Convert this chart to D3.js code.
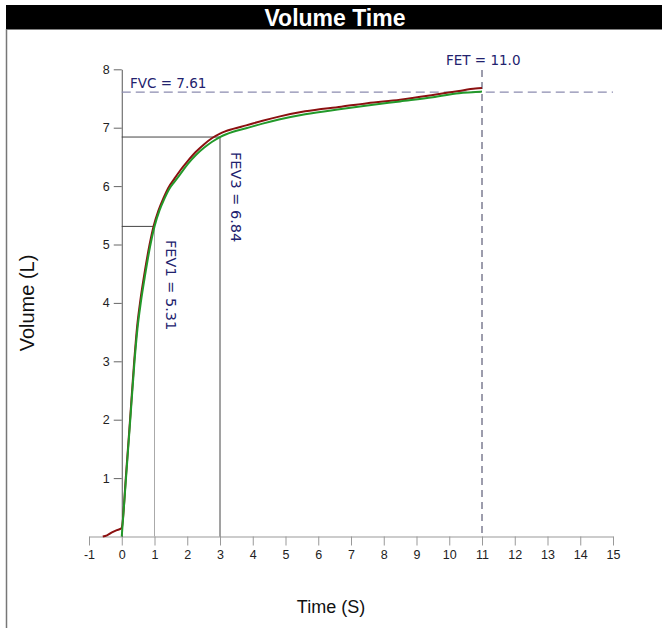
<!DOCTYPE html>
<html>
<head>
<meta charset="utf-8">
<script src="https://cdn.jsdelivr.net/npm/d3@7"></script>
<style>
  html, body { margin: 0; padding: 0; background: #fff; }
  svg { display: block; }
</style>
</head>
<body>
<svg id="chart" width="662" height="628"></svg>
<script>
// ---- data ----
const xTicks = [-1,0,1,2,3,4,5,6,7,8,9,10,11,12,13,14,15];
const yTicks = [1,2,3,4,5,6,7,8];

// trial 1 (dark red) : [time (s), volume (L)]
const trialRed = [
  [-0.58,0],[-0.45,0.02],[-0.3,0.07],[-0.15,0.11],[-0.04,0.13],[0.0,0.15],
  [0.13,1.05],[0.26,2.05],[0.38,3.0],[0.47,3.6],[0.57,4.05],[0.71,4.56],
  [0.85,5.0],[0.97,5.31],[1.12,5.58],[1.27,5.79],[1.42,5.97],[1.6,6.12],
  [1.8,6.28],[2.0,6.42],[2.25,6.58],[2.5,6.71],[2.75,6.82],[3.0,6.9],
  [3.4,6.98],[3.8,7.04],[4.3,7.12],[4.8,7.19],[5.6,7.28],[6.7,7.36],
  [7.5,7.42],[8.5,7.48],[9.5,7.56],[10.3,7.63],[10.8,7.67],[11.0,7.68]
];
// trial 2 (green)
const trialGreen = [
  [0,0],[0.13,1.0],[0.26,2.0],[0.39,3.0],[0.48,3.56],[0.58,4.0],[0.72,4.5],
  [0.86,4.95],[1.0,5.31],[1.15,5.58],[1.3,5.78],[1.45,5.95],[1.62,6.08],
  [1.82,6.23],[2.02,6.38],[2.28,6.54],[2.52,6.66],[2.76,6.76],[3.0,6.84],
  [3.4,6.93],[3.8,6.99],[4.3,7.07],[4.8,7.14],[5.6,7.23],[6.7,7.32],
  [7.5,7.38],[8.5,7.45],[9.5,7.52],[10.3,7.59],[10.8,7.61],[11.0,7.62]
];

const FVC = 7.61, FEV1 = 5.31, FEV3 = 6.84, FET = 11.0;
const fvcLabel = "FVC = 7.61";
const fev1Label = "FEV1 = 5.31";
const fev3Label = "FEV3 = 6.84";
const fetLabel = "FET = 11.0";
const title = "Volume Time";
const xTitle = "Time (S)";
const yTitle = "Volume (L)";

// ---- drawing ----
const svg = d3.select("#chart");
const x = d3.scaleLinear().domain([-1, 15]).range([89, 613]);
const y = d3.scaleLinear().domain([0, 8]).range([536.5, 69.3]);
const navy = "#22226e";
const arial = "Liberation Sans, Arial, sans-serif";

// title bar
svg.append("rect").attr("x", 6).attr("y", 5).attr("width", 656).attr("height", 24.5).attr("fill", "#000");
svg.append("text").attr("x", 335).attr("y", 26).attr("text-anchor", "middle")
  .attr("font-family", arial).attr("font-weight", "bold")
  .attr("font-size", 23).attr("fill", "#fff").text(title);
// left border
svg.append("line").attr("x1", 6.5).attr("x2", 6.5).attr("y1", 29).attr("y2", 628)
  .attr("stroke", "#777").attr("stroke-width", 1.5);

// x axis
const gx = svg.append("g").attr("transform", `translate(0,${y(0)})`)
  .call(d3.axisBottom(x).tickValues(xTicks).tickFormat(d => String(d))
    .tickSize(9).tickSizeOuter(0).tickPadding(5));
gx.select(".domain").attr("stroke", "#999");
gx.selectAll(".tick line").attr("stroke", "#999");
gx.selectAll(".tick text").attr("font-family", arial)
  .attr("font-size", 12.5).attr("fill", "#222");

// y axis
const gy = svg.append("g").attr("transform", `translate(${x(0)},0)`)
  .call(d3.axisLeft(y).tickValues(yTicks).tickFormat(d => String(d))
    .tickSize(8).tickSizeOuter(0).tickPadding(4));
gy.select(".domain").attr("stroke", "#555");
gy.selectAll(".tick line").attr("stroke", "#666");
gy.selectAll(".tick text").attr("font-family", arial)
  .attr("font-size", 12.5).attr("fill", "#222");

// FEV1 / FEV3 marker lines
svg.append("line").attr("x1", x(1)).attr("x2", x(1)).attr("y1", y(0)).attr("y2", y(FEV1))
  .attr("stroke", "#aaa").attr("stroke-width", 1);
svg.append("line").attr("x1", x(0)).attr("x2", x(1)).attr("y1", y(FEV1)).attr("y2", y(FEV1))
  .attr("stroke", "#444").attr("stroke-width", 1);
svg.append("line").attr("x1", x(3)).attr("x2", x(3)).attr("y1", y(0)).attr("y2", y(FEV3))
  .attr("stroke", "#444").attr("stroke-width", 1);
svg.append("line").attr("x1", x(0)).attr("x2", x(3)).attr("y1", y(FEV3)).attr("y2", y(FEV3))
  .attr("stroke", "#444").attr("stroke-width", 1);

// FVC dashed line
svg.append("line").attr("x1", x(0)).attr("x2", x(15)).attr("y1", y(FVC)).attr("y2", y(FVC))
  .attr("stroke", "#8c8cb0").attr("stroke-width", 1.3).attr("stroke-dasharray", "9,5");
// FET dashed line
svg.append("line").attr("x1", x(FET)).attr("x2", x(FET)).attr("y1", 70).attr("y2", y(0))
  .attr("stroke", "#3a3a5a").attr("stroke-width", 1).attr("stroke-dasharray", "7,5");

// curves
const line = d3.line().x(d => x(d[0])).y(d => y(d[1])).curve(d3.curveMonotoneX);
svg.append("path").datum(trialRed).attr("d", line).attr("fill", "none")
  .attr("stroke", "#8b1010").attr("stroke-width", 2);
svg.append("path").datum(trialGreen).attr("d", line).attr("fill", "none")
  .attr("stroke", "#22992a").attr("stroke-width", 2);

// labels
const lblFont = "DejaVu Sans, Verdana, sans-serif";
svg.append("text").attr("x", 130).attr("y", 88).attr("font-family", lblFont)
  .attr("font-size", 13.5).attr("fill", navy).text(fvcLabel);
svg.append("text").attr("x", 446).attr("y", 65).attr("font-family", lblFont)
  .attr("font-size", 13.5).attr("fill", navy).text(fetLabel);
svg.append("text").attr("transform", `translate(${x(1) + 11},240) rotate(90)`)
  .attr("font-family", lblFont).attr("font-size", 14.5).attr("fill", navy).text(fev1Label);
svg.append("text").attr("transform", `translate(${x(3) + 11},152) rotate(90)`)
  .attr("font-family", lblFont).attr("font-size", 14.5).attr("fill", navy).text(fev3Label);

// axis titles
svg.append("text").attr("x", 331).attr("y", 613).attr("text-anchor", "middle")
  .attr("font-family", arial).attr("font-size", 18)
  .attr("fill", "#111").text(xTitle);
svg.append("text").attr("transform", "translate(34,303) rotate(-90)").attr("text-anchor", "middle")
  .attr("font-family", arial).attr("font-size", 20)
  .attr("fill", "#111").text(yTitle);
</script>
</body>
</html>
